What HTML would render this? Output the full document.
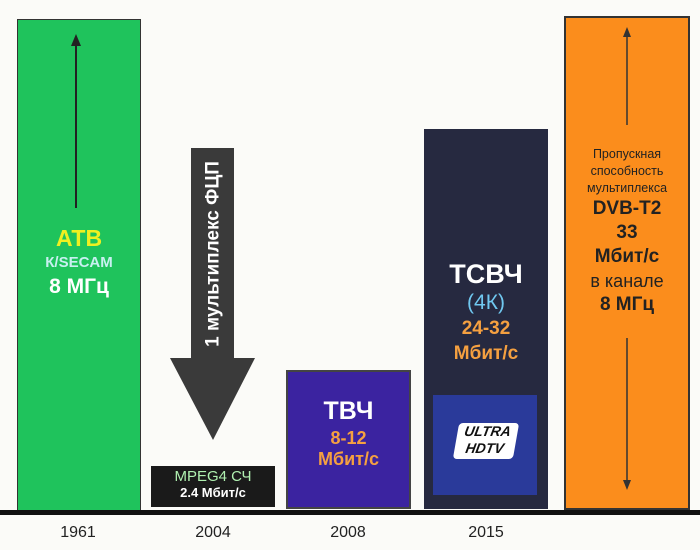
<!DOCTYPE html>
<html><head><meta charset="utf-8"><style>
body{margin:0;width:700px;height:550px;background:#fbfbf8;position:relative;overflow:hidden;font-family:"Liberation Sans","DejaVu Sans",sans-serif;}
.a{position:absolute;box-sizing:border-box}
.t{position:absolute;text-align:center;font-weight:bold;width:100%;left:0}
</style></head><body>
<div class="a" style="left:17px;top:19px;width:124px;height:492px;background:#1fc35c;border:1px solid #333"></div>
<svg class="a" style="left:0;top:0" width="700" height="550">
<line x1="76" y1="44" x2="76" y2="208" stroke="#222" stroke-width="2"/>
<polygon points="76,34 71,46 81,46" fill="#222"/>
<rect x="191" y="148" width="43" height="212" fill="#3a3a3a"/>
<polygon points="170,358 255,358 213,440" fill="#3a3a3a"/>
<rect x="151" y="466" width="124" height="41" fill="#1a1a1a"/>
<rect x="287" y="371" width="123" height="137" fill="#3b23a0" stroke="#444" stroke-width="2"/>
<rect x="424" y="129" width="124" height="380" fill="#262940"/>
<rect x="433" y="395" width="104" height="100" fill="#2a3a9a"/>
<rect x="565" y="17" width="124" height="492" fill="#fb8d1c" stroke="#333" stroke-width="2"/>
<line x1="627" y1="35" x2="627" y2="125" stroke="#333" stroke-width="1.5"/>
<polygon points="627,27 623,37 631,37" fill="#333"/>
<line x1="627" y1="338" x2="627" y2="480" stroke="#333" stroke-width="1.5"/>
<polygon points="627,490 623,480 631,480" fill="#333"/>
<rect x="0" y="510" width="700" height="5" fill="#111"/>
<text x="213" y="254" transform="rotate(-90 213 254)" text-anchor="middle" dominant-baseline="central" fill="#fff" font-weight="bold" font-size="19" font-family="Liberation Sans, sans-serif">1 мультиплекс ФЦП</text>
</svg>
<div class="a" style="left:17px;top:225px;width:124px">
<div class="t" style="position:relative;color:#f0f020;font-size:23px">АТВ</div>
<div class="t" style="position:relative;color:#c8f0f0;font-size:15px;margin-top:2px">К/SECAM</div>
<div class="t" style="position:relative;color:#fff;font-size:21px;margin-top:4px">8 МГц</div>
</div>
<div class="a" style="left:151px;top:468px;width:124px">
<div class="t" style="position:relative;color:#b0f0b0;font-size:15px;font-weight:normal">MPEG4 СЧ</div>
<div class="t" style="position:relative;color:#fff;font-size:13px">2.4 Мбит/с</div>
</div>
<div class="a" style="left:287px;top:397px;width:123px">
<div class="t" style="position:relative;color:#fff;font-size:25px">ТВЧ</div>
<div class="t" style="position:relative;color:#f5a040;font-size:18px;margin-top:2px">8-12</div>
<div class="t" style="position:relative;color:#f5a040;font-size:18px">Мбит/с</div>
</div>
<div class="a" style="left:424px;top:258px;width:124px">
<div class="t" style="position:relative;color:#fff;font-size:27px;line-height:32px">ТСВЧ</div>
<div class="t" style="position:relative;color:#70c8f0;font-size:21px;font-weight:normal;line-height:26px">(4К)</div>
<div class="t" style="position:relative;color:#f5a040;font-size:19px;line-height:25px">24-32</div>
<div class="t" style="position:relative;color:#f5a040;font-size:19px;line-height:25px">Мбит/с</div>
</div>
<div class="a" style="left:456px;top:423px;width:60px;height:36px;background:#fff;border-radius:4px;transform:skewX(-10deg);text-align:center;font-weight:bold;font-style:italic;font-size:14px;line-height:17px;color:#111">ULTRA<br>HDTV</div>
<div class="a" style="left:565px;top:146px;width:124px;color:#222">
<div class="t" style="position:relative;font-size:12.5px;font-weight:normal;line-height:17px">Пропускная<br>способность<br>мультиплекса</div>
<div class="t" style="position:relative;font-size:19px;line-height:24px">DVB-T2</div>
<div class="t" style="position:relative;font-size:19px;line-height:24px">33</div>
<div class="t" style="position:relative;font-size:19px;line-height:24px">Мбит/с</div>
<div class="t" style="position:relative;font-size:18px;font-weight:normal;line-height:24px">в канале</div>
<div class="t" style="position:relative;font-size:19px;line-height:24px">8 МГц</div>
</div>
<div class="a" style="left:38px;top:524px;width:80px;text-align:center;font-size:16px;color:#222">1961</div>
<div class="a" style="left:173px;top:524px;width:80px;text-align:center;font-size:16px;color:#222">2004</div>
<div class="a" style="left:308px;top:524px;width:80px;text-align:center;font-size:16px;color:#222">2008</div>
<div class="a" style="left:446px;top:524px;width:80px;text-align:center;font-size:16px;color:#222">2015</div>
</body></html>
